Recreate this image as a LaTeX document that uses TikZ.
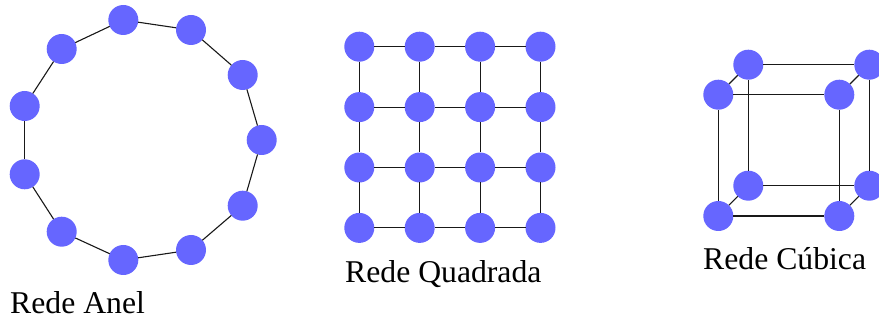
\documentclass[tikz,border=0pt]{standalone}
\usepackage{fontspec}
\setmainfont{Liberation Serif}
\usetikzlibrary{positioning}
\definecolor{nodeblue}{RGB}{102,102,255}
\tikzset{
  site/.style ={circle,fill=nodeblue,inner sep=0pt,outer sep=0pt,minimum size=30pt},
  bond/.style ={draw=black!90,line width=1.1pt},
  caption/.style ={anchor=base west,inner sep=0pt,font=\fontsize{31.7}{36}\selectfont},
}

\begin{document}
\begin{tikzpicture}[x=1pt,y=-1pt,node distance=30.4pt and 30.4pt]
\useasboundingbox (0,0) rectangle (879,320);
% anel
\node[site] (R1) at (123.3,20) {};
\node[site] (R2) at (191,30) {};
\node[site] (R3) at (242.7,75) {};
\node[site] (R4) at (261.7,140) {};
\node[site] (R5) at (242.7,205.7) {};
\node[site] (R6) at (191,250) {};
\node[site] (R7) at (123.3,260) {};
\node[site] (R8) at (61.7,231.7) {};
\node[site] (R9) at (24.7,174.3) {};
\node[site] (R10) at (24.7,106) {};
\node[site] (R11) at (61.7,49) {};
\draw[bond] (R1)--(R2); \draw[bond] (R2)--(R3); \draw[bond] (R3)--(R4);
\draw[bond] (R4)--(R5); \draw[bond] (R5)--(R6); \draw[bond] (R6)--(R7);
\draw[bond] (R7)--(R8); \draw[bond] (R8)--(R9); \draw[bond] (R9)--(R10);
\draw[bond] (R10)--(R11); \draw[bond] (R11)--(R1);
\node[caption] (anel) at (10,314) {Rede Anel};
% quadrada
\node[site] (A1) at (359.3,46.7) {};
\node[site,right=of A1] (A2) {};
\node[site,right=of A2] (A3) {};
\node[site,right=of A3] (A4) {};
\node[site,below=of A1] (B1) {};
\node[site,right=of B1] (B2) {};
\node[site,right=of B2] (B3) {};
\node[site,right=of B3] (B4) {};
\node[site,below=of B1] (C1) {};
\node[site,right=of C1] (C2) {};
\node[site,right=of C2] (C3) {};
\node[site,right=of C3] (C4) {};
\node[site,below=of C1] (D1) {};
\node[site,right=of D1] (D2) {};
\node[site,right=of D2] (D3) {};
\node[site,right=of D3] (D4) {};
\draw[bond] (A1)--(A2); \draw[bond] (A2)--(A3); \draw[bond] (A3)--(A4);
\draw[bond] (B1)--(B2); \draw[bond] (B2)--(B3); \draw[bond] (B3)--(B4);
\draw[bond] (C1)--(C2); \draw[bond] (C2)--(C3); \draw[bond] (C3)--(C4);
\draw[bond] (D1)--(D2); \draw[bond] (D2)--(D3); \draw[bond] (D3)--(D4);
\draw[bond] (A1)--(B1); \draw[bond] (B1)--(C1); \draw[bond] (C1)--(D1);
\draw[bond] (A2)--(B2); \draw[bond] (B2)--(C2); \draw[bond] (C2)--(D2);
\draw[bond] (A3)--(B3); \draw[bond] (B3)--(C3); \draw[bond] (C3)--(D3);
\draw[bond] (A4)--(B4); \draw[bond] (B4)--(C4); \draw[bond] (C4)--(D4);
\node[caption] (quadrada) at (345,282.5) {Rede Quadrada};
% cubica
\node[site] (FTL) at (718.3,94.7) {};
\node[site] (FTR) at (839.3,94.7) {};
\node[site] (FBL) at (718.3,216) {};
\node[site] (FBR) at (839.3,216) {};
\node[site] (TTL) at (748.3,64.7) {};
\node[site] (TTR) at (869.3,64.7) {};
\node[site] (TBL) at (748.3,185.7) {};
\node[site] (TBR) at (869.3,185.7) {};
\draw[bond] (FTL)--(FTR); \draw[bond] (FTR)--(FBR); \draw[bond] (FBR)--(FBL); \draw[bond] (FBL)--(FTL);
\draw[bond] (TTL)--(TTR); \draw[bond] (TTR)--(TBR); \draw[bond] (TBR)--(TBL); \draw[bond] (TBL)--(TTL);
\draw[bond] (FTL)--(TTL); \draw[bond] (FTR)--(TTR); \draw[bond] (FBL)--(TBL); \draw[bond] (FBR)--(TBR);
\node[caption] (cubica) at (703,270) {Rede Cúbica};
\end{tikzpicture}
\end{document}
